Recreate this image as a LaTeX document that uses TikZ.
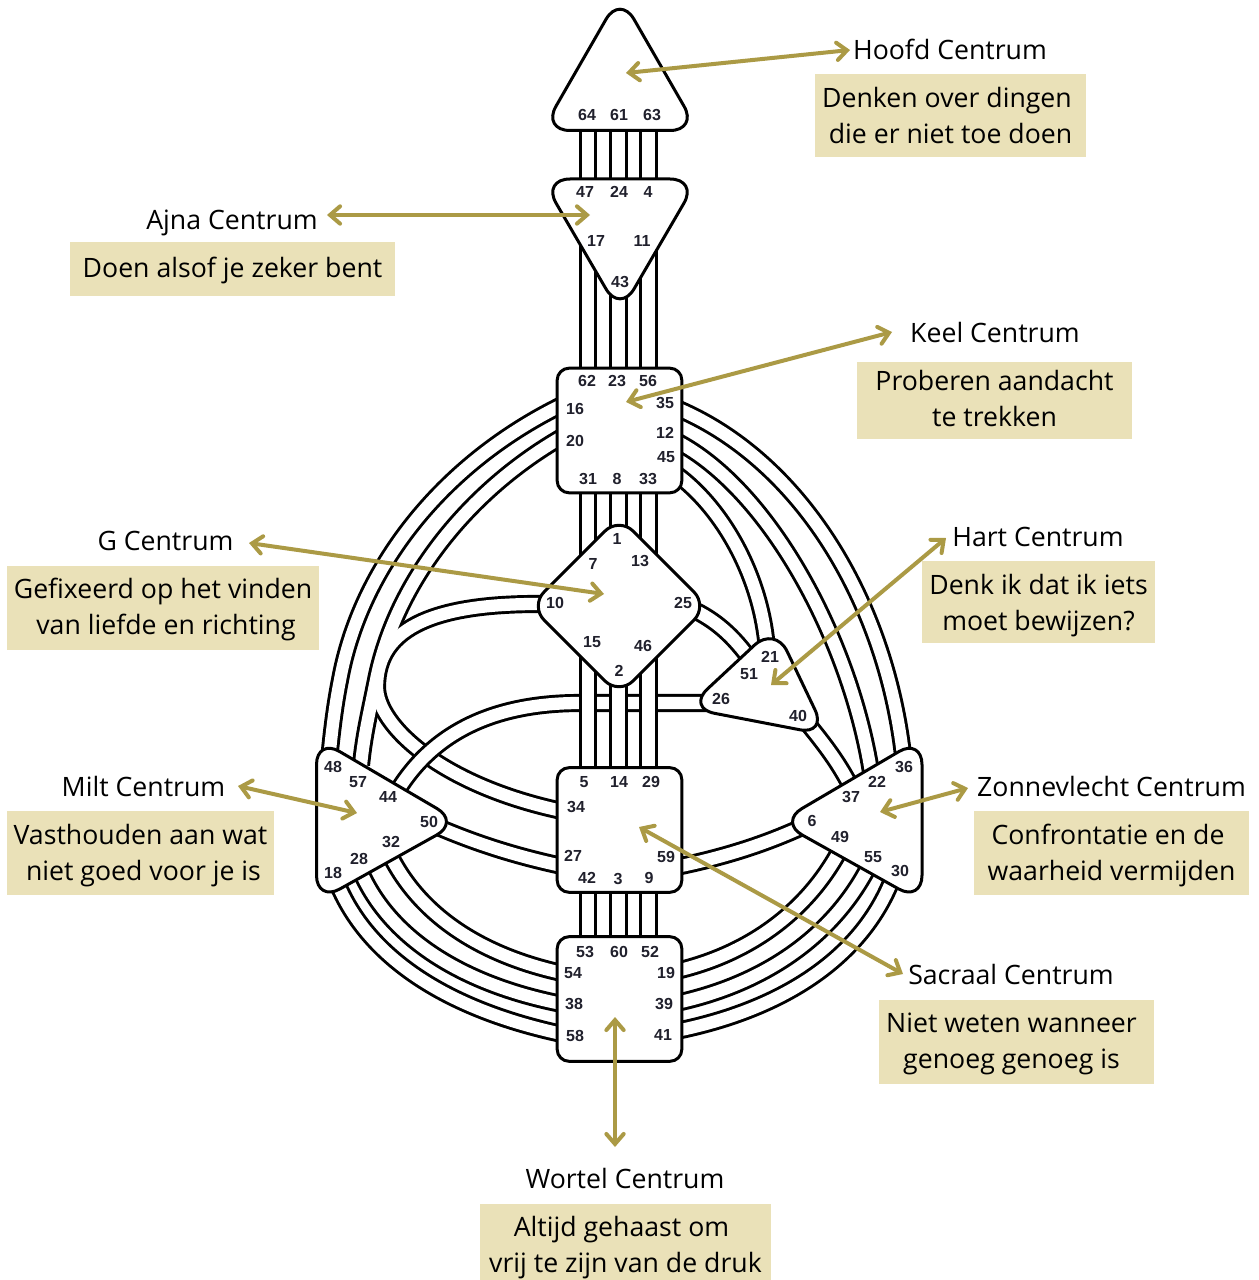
\documentclass[tikz,border=0pt]{standalone}
\usepackage{fontspec}
\setmainfont{Open Sans}
\newfontfamily\numfont{Liberation Sans}
\usetikzlibrary{arrows.meta}
\definecolor{boxfill}{HTML}{EAE1B8}
\definecolor{arrowgold}{HTML}{AB9A45}
\definecolor{numink}{HTML}{20202C}
\tikzset{
  chan/.style={line width=2.2pt,draw=black,double=white,double distance=9.2pt},
  chanb/.style={line width=13.6pt,draw=black},
  chanw/.style={line width=9.2pt,draw=white},
  centre/.style={draw=black,fill=white,line width=2.25pt,line join=round},
  squarecentre/.style={centre,rounded corners=9pt,minimum size=93.5pt,inner sep=0pt,outer sep=0pt},
  num/.style={font=\numfont\bfseries\fontsize{12}{12}\selectfont,text=numink,inner sep=0pt},
  title/.style={font=\fontsize{20}{27}\selectfont,text=black,inner sep=0pt},
  notebox/.style={fill=boxfill,inner sep=0pt},
  note/.style={font=\fontsize{20}{27}\selectfont,text=black,align=center,inner sep=0pt},
  goldarrow/.style={draw=arrowgold,line width=3pt,line cap=round,
    {Straight Barb[length=7.5pt,width=13pt,line cap=round]}-{Straight Barb[length=7.5pt,width=13pt,line cap=round]}}
}
\begin{document}
\begin{tikzpicture}[x=0.75pt,y=-0.75pt]
\useasboundingbox (0,0) rectangle (1258,1280);
\fill[white] (0,0) rectangle (1258,1280);
% gate ports inside the centres
\foreach \n/\x/\y in {64/588/120,61/618.5/120,63/648.5/120,
  47/588/190,24/618.5/190,4/648.5/190,17/588/225,43/618.5/285,11/648.5/225,
  62/588/380,23/618.5/380,56/648.5/380,31/588/480,8/618.5/480,33/648.5/480,
  7/588/565,1/618.5/540,13/648.5/565,15/588/650,2/618.5/670,46/648.5/650,
  5/588/780,14/618.5/780,29/648.5/780,42/588/880,3/618.5/880,9/648.5/880,
  53/588/950,60/618.5/950,52/648.5/950,
  16/562/405,48/329/760,20/562/437,57/361/765,10/545/604,34/562/811,
  35/676/408,36/903/755,12/676/441,22/871/772,45/676/474,21/767/650,
  25/692/609,51/752/662,26/712/703,44/395/795,40/808/724,37/850/785,
  6/800/828,59/676/867,50/438/827,27/562/866,
  18/338/885,58/562/1034,28/360/870,38/562/1004,32/390/855,54/562/973,
  49/840/850,19/676/971,55/868/868,39/676/1003,30/892/880,41/676/1031}
  {\coordinate (g\n) at (\x,\y);}
% merged integration channels
\draw[chanb] (g20) .. controls (470,490) and (396,580) .. (376,680) .. controls (369,715) and (364,735) .. (g57);
\draw[chanb] (g10) .. controls (440,603) and (377,625) .. (377,687) .. controls (377,725) and (440,785) .. (g34);
\draw[chanw] (g20) .. controls (470,490) and (396,580) .. (376,680) .. controls (369,715) and (364,735) .. (g57);
\draw[chanw] (g10) .. controls (440,603) and (377,625) .. (377,687) .. controls (377,725) and (440,785) .. (g34);
% other curved channels
\draw[chan] (g16) .. controls (440,465) and (360,570) .. (340,680) .. controls (335,705) and (332,730) .. (g48);
\draw[chan] (g26) -- (580,703) .. controls (490,703) and (430,735) .. (g44);
\draw[chan] (g35) .. controls (800,460) and (885,600) .. (g36);
\draw[chan] (g12) .. controls (770,490) and (850,640) .. (g22);
\draw[chan] (g45) .. controls (725,510) and (762,580) .. (g21);
\draw[chan] (g25) .. controls (715,620) and (733,635) .. (g51);
\draw[chan] (g40) .. controls (825,745) and (838,762) .. (g37);
\draw[chan] (g6) .. controls (760,846) and (720,858) .. (g59);
\draw[chan] (g50) .. controls (480,845) and (520,857) .. (g27);
\draw[chan] (g18) .. controls (370,960) and (450,1010) .. (g58);
\draw[chan] (g28) .. controls (390,940) and (465,985) .. (g38);
\draw[chan] (g32) .. controls (420,915) and (480,955) .. (g54);
\draw[chan] (g49) .. controls (805,915) and (745,955) .. (g19);
\draw[chan] (g55) .. controls (830,940) and (760,985) .. (g39);
\draw[chan] (g30) .. controls (860,960) and (780,1010) .. (g41);
% vertical channels
\foreach \a/\b in {64/47,61/24,63/4,17/62,43/23,11/56,31/7,8/1,33/13,15/5,2/14,46/29,42/53,3/60,9/52}
  {\draw[chan] (g\a) -- (g\b);}
% centres
\draw[centre,rounded corners=21pt] (620,-5) -- (698,130.5) -- (542,130.5) -- cycle;
\draw[centre,rounded corners=21pt] (542,179) -- (698,179) -- (620,313) -- cycle;
\node[squarecentre] (throat) at (619.5,430.5) {};
\draw[centre,rounded corners=15pt] (619,517) -- (708,606) -- (619,695) -- (530,606) -- cycle;
\draw[centre,rounded corners=21pt] (775,626) -- (827,735) -- (687,708) -- cycle;
\node[squarecentre] (sacral) at (619.5,830) {};
\node[squarecentre] (root) at (619.5,999) {};
\draw[centre,rounded corners=20pt] (316.5,738) -- (460,822) -- (316.5,902) -- cycle;
\draw[centre,rounded corners=20pt] (922,738) -- (922,902) -- (779,822) -- cycle;
% gate numbers
\foreach \n/\x/\y in {64/587/115,61/619/115,63/652/115,
  47/585/192,24/619/192,4/648/192,17/596/241,11/642/241,43/620/282,
  62/587/381,23/617/381,56/648/381,16/575/409,35/665/403,20/575/441,12/665/433,45/666/457,31/588/479,8/617/479,33/648/479,
  1/617/539,7/593/564,13/640/561,10/555/603,25/683/603,15/592/642,46/643/646,2/619/671,
  21/770/657,51/749/674,26/721/699,40/798/716,
  48/333/767,57/358/782,44/388/797,50/429/822,32/391/842,28/359/859,18/333/873,
  36/904/767,22/877/782,37/851/797,6/812/821,49/840/837,55/873/857,30/900/871,
  5/584/782,14/619/782,29/651/782,34/576/807,27/573/856,59/666/857,42/587/878,3/618/879,9/649/878,
  53/585/952,60/619/952,52/650/952,54/573/973,19/666/973,38/574/1004,39/664/1004,58/575/1036,41/663/1035}
  {\node[num] (n\n) at (\x,\y) {\n};}
% note boxes
\node[notebox,minimum width=203.25pt,minimum height=62.25pt] (bhead) at (950.5,115.5) {};
\node[notebox,minimum width=243.75pt,minimum height=40.5pt] (bajna) at (232.5,269) {};
\node[notebox,minimum width=206.25pt,minimum height=57.75pt] (bkeel) at (994.5,400.5) {};
\node[notebox,minimum width=234pt,minimum height=63pt] (bg) at (163,608) {};
\node[notebox,minimum width=174.75pt,minimum height=61.5pt] (bhart) at (1038.5,602) {};
\node[notebox,minimum width=200.25pt,minimum height=63pt] (bmilt) at (140.5,853) {};
\node[notebox,minimum width=206.25pt,minimum height=63pt] (bzonne) at (1111.5,853) {};
\node[notebox,minimum width=206.25pt,minimum height=63pt] (bsac) at (1016.5,1042) {};
\node[notebox,minimum width=218.25pt,minimum height=57pt] (bwor) at (625.5,1242) {};
% titles and note texts
\node[title] (thead) at (950,49) {Hoofd Centrum};
\node[note] (nhead) at (950.5,115.5) {Denken over dingen\kern5.25pt\\die er niet toe doen};
\node[title] (tajna) at (232,223) {Ajna Centrum};
\node[note] (najna) at (232.5,271) {Doen alsof je zeker bent};
\node[title] (tkeel) at (995,332) {Keel Centrum};
\node[note] (nkeel) at (994.5,398.5) {Proberen aandacht\\te trekken};
\node[title] (tg) at (165.5,541) {G Centrum};
\node[note] (ng) at (163,609) {Gefixeerd op het vinden\\\hspace*{4.5pt}van liefde en richting};
\node[title] (thart) at (1038,537) {Hart Centrum};
\node[note] (nhart) at (1038.5,606) {Denk ik dat ik iets\\moet bewijzen?};
\node[title] (tmilt) at (143.5,786) {Milt Centrum};
\node[note] (nmilt) at (140.5,856) {Vasthouden aan wat\\\hspace*{4.5pt}niet goed voor je is};
\node[title] (tzonne) at (1111.5,786) {Zonnevlecht Centrum};
\node[note] (nzonne) at (1111.5,855) {Confrontatie en de\kern5.25pt\\waarheid vermijden};
\node[title] (tsac) at (1011,974) {Sacraal Centrum};
\node[note] (nsac) at (1011.5,1044) {Niet weten wanneer\\genoeg genoeg is};
\node[title] (twor) at (625,1178) {Wortel Centrum};
\node[note] (nwor) at (625.5,1248) {Altijd gehaast om\kern6pt\\vrij te zijn van de druk};
% gold arrows
\coordinate (a1) at (850,50); \coordinate (b1) at (626,73);
\coordinate (a2) at (327,215); \coordinate (b2) at (590,215);
\coordinate (a3) at (892,332); \coordinate (b3) at (626,402);
\coordinate (a4) at (249,543); \coordinate (b4) at (604,594);
\coordinate (a5) at (946,538); \coordinate (b5) at (771,685);
\coordinate (a6) at (238,786); \coordinate (b6) at (357,813);
\coordinate (a7) at (968,788); \coordinate (b7) at (880,812);
\coordinate (a8) at (903,974); \coordinate (b8) at (639,827);
\coordinate (a9) at (615,1147); \coordinate (b9) at (615,1017);
\foreach \i in {1,...,9} {\draw[goldarrow] (a\i) -- (b\i);}
\end{tikzpicture}
\end{document}
